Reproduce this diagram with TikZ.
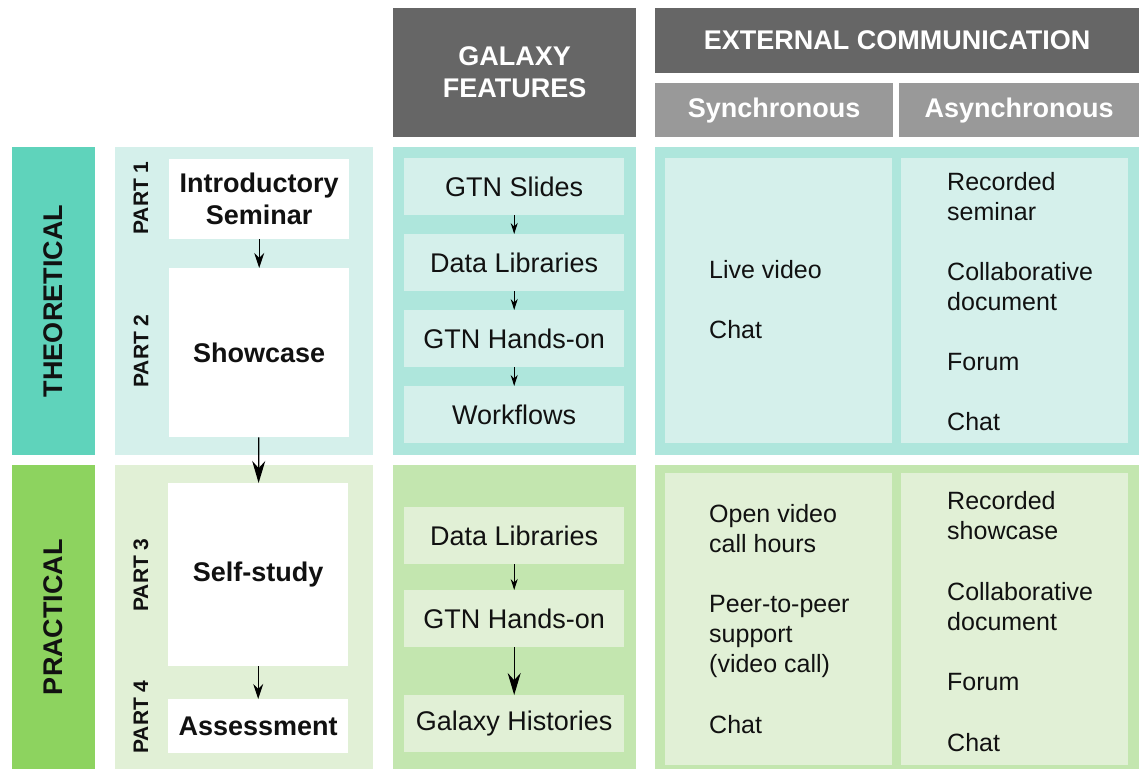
\documentclass[tikz,border=0pt]{standalone}
\usepackage{fontspec}
\setmainfont{Liberation Sans}
\usetikzlibrary{arrows.meta}

\definecolor{headdark}{HTML}{666666}
\definecolor{headlight}{HTML}{999999}
\definecolor{theolabel}{HTML}{5FD3BB}
\definecolor{theopale}{HTML}{D5F0EB}
\definecolor{theomid}{HTML}{AEE6DC}
\definecolor{praclabel}{HTML}{8DD35F}
\definecolor{pracpale}{HTML}{E1F0D6}
\definecolor{pracmid}{HTML}{C3E6AF}
\definecolor{inktext}{HTML}{111111}

\begin{document}
\begin{tikzpicture}[
    x=1pt, y=-1pt,
    % Common Styles
    head_box/.style={
        fill=#1,
        text=white,
        font=\fontsize{27}{32}\selectfont\bfseries,
        align=center,
        inner sep=0pt,
        anchor=north west
    },
    band_label/.style={
        fill=#1,
        text=inktext,
        font=\fontsize{27}{32}\selectfont\bfseries,
        rotate=90,
        inner sep=0pt
    },
    part_text/.style={
        font=\fontsize{21}{25}\selectfont\bfseries,
        text=inktext,
        rotate=90,
        inner sep=0pt
    },
    stage_box/.style={
        fill=white,
        font=\fontsize{27}{32}\selectfont\bfseries,
        text=inktext,
        align=center,
        inner sep=0pt,
        anchor=north west
    },
    feature_box/.style={
        fill=#1,
        font=\fontsize{27}{32}\selectfont,
        text=inktext,
        minimum width=220pt,
        minimum height=57pt,
        inner sep=0pt,
        anchor=north west
    },
    % base = baseline of the last line
    item_text/.style={
        font=\fontsize{25}{30}\selectfont,
        text=inktext,
        align=left,
        inner sep=0pt,
        anchor=base west
    },
    flow_small/.style={
        line width=1.3pt,
        -{Stealth[length=11pt, width=7pt]}
    },
    flow_mid/.style={
        line width=1.3pt,
        -{Stealth[length=15pt, width=10pt]}
    },
    flow_big/.style={
        line width=1.3pt,
        -{Stealth[length=22pt, width=13pt]}
    }
]
    \useasboundingbox (0,0) rectangle (1141,769);

    % ================= HEADERS =================
    \node[head_box=headdark, minimum width=243pt, minimum height=129pt] (galhead) at (393,8) {GALAXY\\FEATURES};
    \node[head_box=headdark, minimum width=484pt, minimum height=65pt] (exthead) at (655,8) {EXTERNAL COMMUNICATION};
    \node[head_box=headlight, minimum width=238pt, minimum height=54pt] (synchead) at (655,83) {Synchronous};
    \node[head_box=headlight, minimum width=240pt, minimum height=54pt] (asynchead) at (899,83) {Asynchronous};

    % ================= THEORETICAL =================
    % Panels
    \fill[theopale] (115,147) rectangle (373,455);
    \fill[theomid] (393,147) rectangle (636,455);
    \fill[theomid] (655,147) rectangle (1139,455);
    \fill[theopale] (665,158) rectangle (892,443);
    \fill[theopale] (901,158) rectangle (1128,443);

    \node[band_label=theolabel, minimum width=308pt, minimum height=83pt] (theo) at (53.5,301) {THEORETICAL};

    % Parts
    \node[part_text] (part1) at (141,198) {PART 1};
    \node[part_text] (part2) at (141,351) {PART 2};
    \node[stage_box, minimum width=180pt, minimum height=80pt] (intro) at (169,159) {Introductory\\Seminar};
    \node[stage_box, minimum width=180pt, minimum height=169pt] (showcase) at (169,268) {Showcase};

    % Galaxy features
    \node[feature_box=theopale] (tslides) at (404,158) {GTN Slides};
    \node[feature_box=theopale] (tdata) at (404,234) {Data Libraries};
    \node[feature_box=theopale] (thands) at (404,310) {GTN Hands-on};
    \node[feature_box=theopale] (tflows) at (404,386) {Workflows};

    % External communication
    \node[item_text] (tsync1) at (709,278) {Live video};
    \node[item_text] (tsync2) at (709,338) {Chat};
    \node[item_text] (tasync1) at (947,220) {Recorded\\seminar};
    \node[item_text] (tasync2) at (947,310) {Collaborative\\document};
    \node[item_text] (tasync3) at (947,370) {Forum};
    \node[item_text] (tasync4) at (947,430) {Chat};

    % ================= PRACTICAL =================
    % Panels
    \fill[pracpale] (115,465) rectangle (373,769);
    \fill[pracmid] (393,465) rectangle (636,769);
    \fill[pracmid] (655,465) rectangle (1139,769);
    \fill[pracpale] (665,473) rectangle (892,765);
    \fill[pracpale] (901,473) rectangle (1128,765);

    \node[band_label=praclabel, minimum width=304pt, minimum height=83pt] (prac) at (53.5,617) {PRACTICAL};

    % Parts
    \node[part_text] (part3) at (141,575) {PART 3};
    \node[part_text] (part4) at (141,717) {PART 4};
    \node[stage_box, minimum width=180pt, minimum height=183pt] (selfstudy) at (168,483) {Self-study};
    \node[stage_box, minimum width=180pt, minimum height=54pt] (assess) at (168,699) {Assessment};

    % Galaxy features
    \node[feature_box=pracpale] (pdata) at (404,507) {Data Libraries};
    \node[feature_box=pracpale] (phands) at (404,590) {GTN Hands-on};
    \node[feature_box=pracpale] (phist) at (404,695) {Galaxy Histories};

    % External communication
    \node[item_text] (psync1) at (709,552) {Open video\\call hours};
    \node[item_text] (psync2) at (709,672) {Peer-to-peer\\support\\(video call)};
    \node[item_text] (psync3) at (709,733) {Chat};
    \node[item_text] (pasync1) at (947,539) {Recorded\\showcase};
    \node[item_text] (pasync2) at (947,630) {Collaborative\\document};
    \node[item_text] (pasync3) at (947,690) {Forum};
    \node[item_text] (pasync4) at (947,751) {Chat};

    % ================= ARROWS =================
    \draw[flow_mid] (intro) -- (showcase);
    \draw[flow_big] (showcase) -- (selfstudy);
    \draw[flow_mid] (selfstudy) -- (assess);

    \draw[flow_small] (tslides) -- (tdata);
    \draw[flow_small] (tdata) -- (thands);
    \draw[flow_small] (thands) -- (tflows);

    \draw[flow_small] (pdata) -- (phands);
    \draw[flow_big] (phands) -- (phist);

\end{tikzpicture}
\end{document}
